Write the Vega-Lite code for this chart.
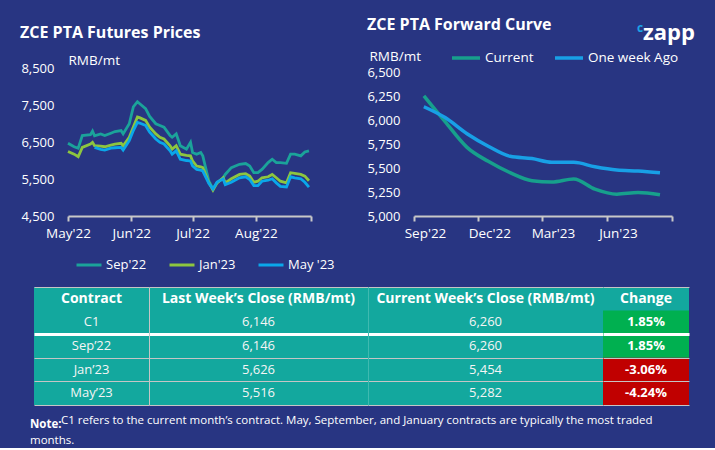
{
  "$schema": "https://vega.github.io/schema/vega-lite/v6.json",
  "background": "#283582",
  "padding": {"left": 20, "top": 17, "right": 20, "bottom": 2},
  "config": {
    "font": "Open Sans",
    "view": {"stroke": null},
    "locale": {"number": {"decimal": ".", "thousands": ",", "grouping": [3], "currency": ["", ""], "minus": "-"}},
    "axis": {"labelFont": "Open Sans", "titleFont": "Open Sans", "labelColor": "white", "titleColor": "white"},
    "legend": {"labelFont": "Open Sans"},
    "title": {"font": "Open Sans", "color": "white"}
  },
  "datasets": {
    "futures": [
      {"date":"2022-05-01","contract":"Sep'22","price":6465},{"date":"2022-05-04","contract":"Sep'22","price":6372},{"date":"2022-05-06","contract":"Sep'22","price":6330},{"date":"2022-05-08","contract":"Sep'22","price":6673},{"date":"2022-05-12","contract":"Sep'22","price":6700},{"date":"2022-05-13","contract":"Sep'22","price":6793},{"date":"2022-05-14","contract":"Sep'22","price":6665},{"date":"2022-05-17","contract":"Sep'22","price":6719},{"date":"2022-05-19","contract":"Sep'22","price":6673},{"date":"2022-05-22","contract":"Sep'22","price":6738},{"date":"2022-05-24","contract":"Sep'22","price":6782},{"date":"2022-05-27","contract":"Sep'22","price":6810},{"date":"2022-05-28","contract":"Sep'22","price":6719},{"date":"2022-05-31","contract":"Sep'22","price":6993},{"date":"2022-06-02","contract":"Sep'22","price":7451},{"date":"2022-06-04","contract":"Sep'22","price":7588},{"date":"2022-06-05","contract":"Sep'22","price":7541},{"date":"2022-06-08","contract":"Sep'22","price":7404},{"date":"2022-06-10","contract":"Sep'22","price":7193},{"date":"2022-06-13","contract":"Sep'22","price":6993},{"date":"2022-06-15","contract":"Sep'22","price":6947},{"date":"2022-06-17","contract":"Sep'22","price":6902},{"date":"2022-06-20","contract":"Sep'22","price":6673},{"date":"2022-06-21","contract":"Sep'22","price":6628},{"date":"2022-06-23","contract":"Sep'22","price":6719},{"date":"2022-06-25","contract":"Sep'22","price":6399},{"date":"2022-06-28","contract":"Sep'22","price":6308},{"date":"2022-06-30","contract":"Sep'22","price":6492},{"date":"2022-07-01","contract":"Sep'22","price":6218},{"date":"2022-07-03","contract":"Sep'22","price":6171},{"date":"2022-07-05","contract":"Sep'22","price":6218},{"date":"2022-07-06","contract":"Sep'22","price":6125},{"date":"2022-07-09","contract":"Sep'22","price":5440},{"date":"2022-07-11","contract":"Sep'22","price":5230},{"date":"2022-07-13","contract":"Sep'22","price":5396},{"date":"2022-07-16","contract":"Sep'22","price":5533},{"date":"2022-07-17","contract":"Sep'22","price":5623},{"date":"2022-07-20","contract":"Sep'22","price":5807},{"date":"2022-07-24","contract":"Sep'22","price":5897},{"date":"2022-07-27","contract":"Sep'22","price":5917},{"date":"2022-07-29","contract":"Sep'22","price":5851},{"date":"2022-07-31","contract":"Sep'22","price":5670},{"date":"2022-08-02","contract":"Sep'22","price":5670},{"date":"2022-08-04","contract":"Sep'22","price":5760},{"date":"2022-08-07","contract":"Sep'22","price":5944},{"date":"2022-08-09","contract":"Sep'22","price":6034},{"date":"2022-08-11","contract":"Sep'22","price":5944},{"date":"2022-08-13","contract":"Sep'22","price":5944},{"date":"2022-08-16","contract":"Sep'22","price":5925},{"date":"2022-08-18","contract":"Sep'22","price":6171},{"date":"2022-08-20","contract":"Sep'22","price":6171},{"date":"2022-08-23","contract":"Sep'22","price":6125},{"date":"2022-08-25","contract":"Sep'22","price":6230},{"date":"2022-08-27","contract":"Sep'22","price":6260},
      {"date":"2022-05-01","contract":"Jan'23","price":6245},{"date":"2022-05-04","contract":"Jan'23","price":6171},{"date":"2022-05-06","contract":"Jan'23","price":6100},{"date":"2022-05-08","contract":"Jan'23","price":6355},{"date":"2022-05-12","contract":"Jan'23","price":6445},{"date":"2022-05-13","contract":"Jan'23","price":6492},{"date":"2022-05-14","contract":"Jan'23","price":6399},{"date":"2022-05-17","contract":"Jan'23","price":6390},{"date":"2022-05-19","contract":"Jan'23","price":6372},{"date":"2022-05-22","contract":"Jan'23","price":6418},{"date":"2022-05-24","contract":"Jan'23","price":6440},{"date":"2022-05-27","contract":"Jan'23","price":6465},{"date":"2022-05-28","contract":"Jan'23","price":6399},{"date":"2022-05-31","contract":"Jan'23","price":6628},{"date":"2022-06-02","contract":"Jan'23","price":6902},{"date":"2022-06-04","contract":"Jan'23","price":7177},{"date":"2022-06-05","contract":"Jan'23","price":7158},{"date":"2022-06-08","contract":"Jan'23","price":7084},{"date":"2022-06-10","contract":"Jan'23","price":6902},{"date":"2022-06-13","contract":"Jan'23","price":6719},{"date":"2022-06-15","contract":"Jan'23","price":6628},{"date":"2022-06-17","contract":"Jan'23","price":6582},{"date":"2022-06-20","contract":"Jan'23","price":6399},{"date":"2022-06-21","contract":"Jan'23","price":6308},{"date":"2022-06-23","contract":"Jan'23","price":6399},{"date":"2022-06-25","contract":"Jan'23","price":6171},{"date":"2022-06-28","contract":"Jan'23","price":6140},{"date":"2022-06-30","contract":"Jan'23","price":6125},{"date":"2022-07-01","contract":"Jan'23","price":5988},{"date":"2022-07-03","contract":"Jan'23","price":5851},{"date":"2022-07-05","contract":"Jan'23","price":5830},{"date":"2022-07-06","contract":"Jan'23","price":5807},{"date":"2022-07-09","contract":"Jan'23","price":5400},{"date":"2022-07-11","contract":"Jan'23","price":5200},{"date":"2022-07-13","contract":"Jan'23","price":5396},{"date":"2022-07-16","contract":"Jan'23","price":5533},{"date":"2022-07-17","contract":"Jan'23","price":5396},{"date":"2022-07-20","contract":"Jan'23","price":5506},{"date":"2022-07-24","contract":"Jan'23","price":5623},{"date":"2022-07-27","contract":"Jan'23","price":5643},{"date":"2022-07-29","contract":"Jan'23","price":5577},{"date":"2022-07-31","contract":"Jan'23","price":5412},{"date":"2022-08-02","contract":"Jan'23","price":5440},{"date":"2022-08-04","contract":"Jan'23","price":5533},{"date":"2022-08-07","contract":"Jan'23","price":5560},{"date":"2022-08-09","contract":"Jan'23","price":5623},{"date":"2022-08-11","contract":"Jan'23","price":5533},{"date":"2022-08-13","contract":"Jan'23","price":5440},{"date":"2022-08-16","contract":"Jan'23","price":5396},{"date":"2022-08-18","contract":"Jan'23","price":5670},{"date":"2022-08-20","contract":"Jan'23","price":5650},{"date":"2022-08-23","contract":"Jan'23","price":5623},{"date":"2022-08-25","contract":"Jan'23","price":5577},{"date":"2022-08-27","contract":"Jan'23","price":5454},
      {"date":"2022-05-14","contract":"May '23","price":6355},{"date":"2022-05-17","contract":"May '23","price":6300},{"date":"2022-05-19","contract":"May '23","price":6281},{"date":"2022-05-22","contract":"May '23","price":6336},{"date":"2022-05-24","contract":"May '23","price":6345},{"date":"2022-05-27","contract":"May '23","price":6355},{"date":"2022-05-28","contract":"May '23","price":6281},{"date":"2022-05-31","contract":"May '23","price":6536},{"date":"2022-06-02","contract":"May '23","price":6810},{"date":"2022-06-04","contract":"May '23","price":7030},{"date":"2022-06-05","contract":"May '23","price":7012},{"date":"2022-06-08","contract":"May '23","price":6947},{"date":"2022-06-10","contract":"May '23","price":6765},{"date":"2022-06-13","contract":"May '23","price":6582},{"date":"2022-06-15","contract":"May '23","price":6492},{"date":"2022-06-17","contract":"May '23","price":6445},{"date":"2022-06-20","contract":"May '23","price":6262},{"date":"2022-06-21","contract":"May '23","price":6171},{"date":"2022-06-23","contract":"May '23","price":6262},{"date":"2022-06-25","contract":"May '23","price":6034},{"date":"2022-06-28","contract":"May '23","price":6000},{"date":"2022-06-30","contract":"May '23","price":5988},{"date":"2022-07-01","contract":"May '23","price":5851},{"date":"2022-07-03","contract":"May '23","price":5760},{"date":"2022-07-05","contract":"May '23","price":5740},{"date":"2022-07-06","contract":"May '23","price":5715},{"date":"2022-07-09","contract":"May '23","price":5380},{"date":"2022-07-11","contract":"May '23","price":5230},{"date":"2022-07-13","contract":"May '23","price":5420},{"date":"2022-07-16","contract":"May '23","price":5500},{"date":"2022-07-17","contract":"May '23","price":5349},{"date":"2022-07-20","contract":"May '23","price":5412},{"date":"2022-07-24","contract":"May '23","price":5533},{"date":"2022-07-27","contract":"May '23","price":5560},{"date":"2022-07-29","contract":"May '23","price":5486},{"date":"2022-07-31","contract":"May '23","price":5322},{"date":"2022-08-02","contract":"May '23","price":5322},{"date":"2022-08-04","contract":"May '23","price":5440},{"date":"2022-08-07","contract":"May '23","price":5467},{"date":"2022-08-09","contract":"May '23","price":5506},{"date":"2022-08-11","contract":"May '23","price":5396},{"date":"2022-08-13","contract":"May '23","price":5303},{"date":"2022-08-16","contract":"May '23","price":5286},{"date":"2022-08-18","contract":"May '23","price":5560},{"date":"2022-08-20","contract":"May '23","price":5530},{"date":"2022-08-23","contract":"May '23","price":5506},{"date":"2022-08-25","contract":"May '23","price":5412},{"date":"2022-08-27","contract":"May '23","price":5282}
    ],
    "curve": [
      {"month":"2022-09-15","series":"Current","price":6260},{"month":"2022-10-15","series":"Current","price":5990},{"month":"2022-11-15","series":"Current","price":5720},{"month":"2022-12-15","series":"Current","price":5573},{"month":"2023-01-15","series":"Current","price":5454},{"month":"2023-02-15","series":"Current","price":5370},{"month":"2023-03-15","series":"Current","price":5356},{"month":"2023-04-15","series":"Current","price":5388},{"month":"2023-05-15","series":"Current","price":5282},{"month":"2023-06-15","series":"Current","price":5229},{"month":"2023-07-15","series":"Current","price":5246},{"month":"2023-08-15","series":"Current","price":5222},
      {"month":"2022-09-15","series":"One week Ago","price":6146},{"month":"2022-10-15","series":"One week Ago","price":6032},{"month":"2022-11-15","series":"One week Ago","price":5863},{"month":"2022-12-15","series":"One week Ago","price":5732},{"month":"2023-01-15","series":"One week Ago","price":5626},{"month":"2023-02-15","series":"One week Ago","price":5602},{"month":"2023-03-15","series":"One week Ago","price":5563},{"month":"2023-04-15","series":"One week Ago","price":5563},{"month":"2023-05-15","series":"One week Ago","price":5516},{"month":"2023-06-15","series":"One week Ago","price":5482},{"month":"2023-07-15","series":"One week Ago","price":5472},{"month":"2023-08-15","series":"One week Ago","price":5454}
    ],
    "table": [
      {"contract":"C1","last":6146,"current":6260,"change":0.0185},
      {"contract":"Sep’22","last":6146,"current":6260,"change":0.0185},
      {"contract":"Jan’23","last":5626,"current":5454,"change":-0.0306},
      {"contract":"May’23","last":5516,"current":5282,"change":-0.0424}
    ]
  },
  "title": {"text": "C1 refers to the current month’s contract. May, September, and January contracts are typically the most traded", "orient": "bottom", "anchor": "start", "frame": "group", "dx": 27, "offset": -31, "fontSize": 11.5, "fontWeight": "normal", "color": "white"},
  "bounds": "flush",
  "spacing": 219,
  "vconcat": [
    {
      "bounds": "flush",
      "spacing": 0,
      "title": {"text": "c", "anchor": "start", "frame": "group", "dx": 603, "offset": -18, "fontSize": 12, "fontWeight": "bold", "color": "#1aa3e8"},
      "hconcat": [
        {"width": 34, "height": 148, "data": {"values": [{}]}, "mark": {"type": "text", "text": ""}, "encoding": {}},
        {
          "bounds": "flush",
          "spacing": 103,
          "resolve": {"scale": {"color": "independent"}, "legend": {"color": "independent"}},
          "title": {"text": "zapp", "anchor": "start", "frame": "group", "dx": 575, "offset": -28, "fontSize": 22, "fontWeight": "bold", "color": "white"},
          "hconcat": [
            {
              "width": 243,
              "height": 148,
              "title": {"text": "ZCE PTA Futures Prices", "anchor": "start", "frame": "group", "dx": -48, "offset": 12, "fontSize": 16, "fontWeight": "bold", "color": "white"},
              "data": {"name": "futures"},
              "mark": {"type": "line", "strokeWidth": 2.8},
              "encoding": {
                "x": {"field": "date", "type": "temporal",
                  "scale": {"type": "utc", "domain": [{"year": 2022, "month": 5, "date": 1, "utc": true}, {"year": 2022, "month": 8, "date": 28, "utc": true}]},
                  "axis": {"values": [{"year": 2022, "month": 5, "date": 1, "utc": true}, {"year": 2022, "month": 6, "date": 1, "utc": true}, {"year": 2022, "month": 7, "date": 1, "utc": true}, {"year": 2022, "month": 8, "date": 1, "utc": true}, {"year": 2022, "month": 8, "date": 28, "utc": true}],
                    "labelExpr": "datum.index == 1 ? '' : utcFormat(datum.value, \"%b'%y\")", "title": null, "grid": false, "labelFlush": false, "labelOverlap": false,
                    "domainColor": "#c8c8c8", "domainWidth": 2, "tickColor": "#c8c8c8", "tickWidth": 2, "tickSize": 5, "labelPadding": 5, "labelFontSize": 13.5, "labelColor": "white"}},
                "y": {"field": "price", "type": "quantitative",
                  "scale": {"domain": [4500, 8500], "nice": false, "zero": false},
                  "axis": {"values": [4500, 5500, 6500, 7500, 8500], "format": ",.0f", "title": "RMB/mt", "titleAngle": 0, "titleAlign": "left", "titleBaseline": "middle", "titleX": 0, "titleY": -8, "titleColor": "white", "titleFontSize": 13.5, "titleFontWeight": "normal", "domain": false, "ticks": false, "tickSize": 0, "labelPadding": 14, "grid": false, "labelFontSize": 13, "labelColor": "white"}},
                "color": {"field": "contract", "type": "nominal",
                  "scale": {"domain": ["Sep'22", "Jan'23", "May '23"], "range": ["#1ba39a", "#8dc63f", "#0aa7ea"]},
                  "legend": {"orient": "none", "legendX": 7, "legendY": 183, "direction": "horizontal", "title": null, "symbolType": "stroke", "symbolSize": 625, "symbolStrokeWidth": 3, "labelFontSize": 13, "labelColor": "white", "columnPadding": 16, "labelOffset": 3}}
              }
            },
            {
              "width": 258,
              "height": 148,
              "title": {"text": "ZCE PTA Forward Curve", "anchor": "start", "frame": "group", "dx": -47, "offset": 9, "fontSize": 16, "fontWeight": "bold", "color": "white"},
              "data": {"name": "curve"},
              "mark": {"type": "line", "interpolate": "monotone", "strokeWidth": 3.5},
              "encoding": {
                "x": {"field": "month", "type": "temporal",
                  "scale": {"type": "utc", "domain": [{"year": 2022, "month": 9, "date": 1, "utc": true}, {"year": 2023, "month": 9, "date": 1, "utc": true}]},
                  "axis": {"values": [{"year": 2022, "month": 9, "date": 1, "utc": true}, {"year": 2022, "month": 12, "date": 1, "utc": true}, {"year": 2023, "month": 3, "date": 1, "utc": true}, {"year": 2023, "month": 6, "date": 1, "utc": true}, {"year": 2023, "month": 9, "date": 1, "utc": true}],
                    "labelExpr": "datum.index == 1 ? '' : utcFormat(datum.value, \"%b'%y\")", "title": null, "grid": false, "labelFlush": false, "labelOverlap": false, "labelOffset": 11,
                    "domainColor": "#c8c8c8", "domainWidth": 2, "tickColor": "#c8c8c8", "tickWidth": 2, "tickSize": 5, "labelPadding": 5, "labelFontSize": 13.5, "labelColor": "white"}},
                "y": {"field": "price", "type": "quantitative",
                  "scale": {"domain": [5000, 6552], "nice": false, "zero": false},
                  "axis": {"values": [5000, 5250, 5500, 5750, 6000, 6250, 6500], "format": ",.0f", "title": "RMB/mt", "titleAngle": 0, "titleAlign": "left", "titleBaseline": "middle", "titleX": -45, "titleY": -12, "titleColor": "white", "titleFontSize": 13.5, "titleFontWeight": "normal", "domain": false, "ticks": false, "tickSize": 0, "labelPadding": 14, "grid": false, "labelFontSize": 13, "labelColor": "white"}},
                "color": {"field": "series", "type": "nominal",
                  "scale": {"domain": ["Current", "One week Ago"], "range": ["#17a08c", "#18a0e6"]},
                  "legend": {"orient": "none", "legendX": 36, "legendY": -26, "direction": "horizontal", "title": null, "symbolType": "stroke", "symbolSize": 784, "symbolStrokeWidth": 3.5, "labelFontSize": 13.5, "labelColor": "white", "columnPadding": 14, "labelOffset": 3}}
              }
            }
          ]
        }
      ]
    },
    {
      "bounds": "flush",
      "spacing": 0,
      "title": {"text": "Note:", "subtitle": "months.", "orient": "bottom", "anchor": "start", "frame": "group", "dx": -4, "offset": 14, "fontSize": 11.5, "fontWeight": "bold", "color": "white", "subtitleFontSize": 11.5, "subtitleColor": "white", "subtitleFont": "Open Sans", "subtitleFontWeight": "normal", "subtitlePadding": 4},
      "hconcat": [
        {
          "width": 115, "height": 118,
          "view": {"fill": "#13a89e", "stroke": null},
          "layer": [
            {"data": {"values": [{}]}, "mark": {"type": "text", "fontWeight": "bold", "fontSize": 14, "color": "white"},
             "encoding": {"y": {"datum": "H", "type": "nominal",
               "scale": {"domain": ["H", "C1", "Sep’22", "Jan’23", "May’23"], "paddingInner": 0, "paddingOuter": 0},
               "axis": {"title": null, "labels": false, "ticks": false, "domain": false, "grid": true, "tickBand": "extent", "zindex": 1,
                 "gridColor": {"condition": {"test": "datum.value === 'C1'", "value": "white"}, "value": "#c5c5c5"},
                 "gridWidth": {"condition": {"test": "datum.value === 'C1'", "value": 3}, "value": 1},
                 "gridOpacity": {"condition": {"test": "datum.value === 'H'", "value": 0}, "value": 1}}},
               "text": {"value": "Contract"}}},
            {"data": {"name": "table"}, "mark": {"type": "text", "fontSize": 13, "color": "#f5f5f5"},
             "encoding": {"y": {"field": "contract", "type": "nominal"}, "text": {"field": "contract"}}}
          ]
        },
        {
          "width": 219, "height": 118,
          "view": {"fill": "#13a89e", "stroke": null},
          "layer": [
            {"data": {"values": [{}]}, "mark": {"type": "text", "fontWeight": "bold", "fontSize": 14, "color": "white"},
             "encoding": {"y": {"datum": "H", "type": "nominal",
               "scale": {"domain": ["H", "C1", "Sep’22", "Jan’23", "May’23"], "paddingInner": 0, "paddingOuter": 0},
               "axis": {"title": null, "labels": false, "ticks": false, "domain": true, "domainColor": "#c5c5c5", "domainWidth": 1, "grid": true, "tickBand": "extent", "zindex": 1,
                 "gridColor": {"condition": {"test": "datum.value === 'C1'", "value": "white"}, "value": "#c5c5c5"},
                 "gridWidth": {"condition": {"test": "datum.value === 'C1'", "value": 3}, "value": 1},
                 "gridOpacity": {"condition": {"test": "datum.value === 'H'", "value": 0}, "value": 1}}},
               "text": {"value": "Last Week’s Close (RMB/mt)"}}},
            {"data": {"name": "table"}, "mark": {"type": "text", "fontSize": 13, "color": "#f5f5f5"},
             "encoding": {"y": {"field": "contract", "type": "nominal"}, "text": {"field": "last", "format": ",.0f"}}}
          ]
        },
        {
          "width": 235, "height": 118,
          "view": {"fill": "#13a89e", "stroke": null},
          "layer": [
            {"data": {"values": [{}]}, "mark": {"type": "text", "fontWeight": "bold", "fontSize": 14, "color": "white"},
             "encoding": {"y": {"datum": "H", "type": "nominal",
               "scale": {"domain": ["H", "C1", "Sep’22", "Jan’23", "May’23"], "paddingInner": 0, "paddingOuter": 0},
               "axis": {"title": null, "labels": false, "ticks": false, "domain": true, "domainColor": "#3fbab0", "domainWidth": 1, "grid": true, "tickBand": "extent", "zindex": 1,
                 "gridColor": {"condition": {"test": "datum.value === 'C1'", "value": "white"}, "value": "#c5c5c5"},
                 "gridWidth": {"condition": {"test": "datum.value === 'C1'", "value": 3}, "value": 1},
                 "gridOpacity": {"condition": {"test": "datum.value === 'H'", "value": 0}, "value": 1}}},
               "text": {"value": "Current Week’s Close (RMB/mt)"}}},
            {"data": {"name": "table"}, "mark": {"type": "text", "fontSize": 13, "color": "#f5f5f5"},
             "encoding": {"y": {"field": "contract", "type": "nominal"}, "text": {"field": "current", "format": ",.0f"}}}
          ]
        },
        {
          "width": 86, "height": 118,
          "view": {"fill": "#13a89e", "stroke": null},
          "layer": [
            {"data": {"values": [{}]}, "mark": {"type": "text", "fontWeight": "bold", "fontSize": 14, "color": "white"},
             "encoding": {"y": {"datum": "H", "type": "nominal",
               "scale": {"domain": ["H", "C1", "Sep’22", "Jan’23", "May’23"], "paddingInner": 0, "paddingOuter": 0},
               "axis": {"title": null, "labels": false, "ticks": false, "domain": false, "grid": true, "tickBand": "extent", "zindex": 1,
                 "gridColor": {"condition": {"test": "datum.value === 'C1'", "value": "white"}, "value": "#c5c5c5"},
                 "gridWidth": {"condition": {"test": "datum.value === 'C1'", "value": 3}, "value": 1},
                 "gridOpacity": {"condition": {"test": "datum.value === 'H'", "value": 0}, "value": 1}}},
               "text": {"value": "Change"}}},
            {"data": {"name": "table"}, "mark": {"type": "rect"},
             "encoding": {"y": {"field": "contract", "type": "nominal"},
               "color": {"condition": {"test": "datum.change > 0", "value": "#00b050"}, "value": "#c00000"}}},
            {"data": {"name": "table"}, "mark": {"type": "text", "fontSize": 13, "fontWeight": "bold", "color": "white"},
             "encoding": {"y": {"field": "contract", "type": "nominal"}, "text": {"field": "change", "format": ".2%"}}}
          ]
        }
      ]
    }
  ]
}
